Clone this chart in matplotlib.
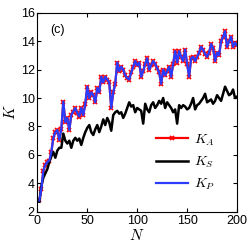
import numpy as np
import matplotlib
matplotlib.use('Agg')
import matplotlib.pyplot as plt

plt.rcParams['font.family'] = ['Liberation Sans', 'DejaVu Sans']
plt.rcParams['mathtext.fontset'] = 'cm'

N = np.arange(2, 201, 2)

K_A = [2.8, 3.6, 4.9, 5.3, 5.5, 5.6, 6.2, 7.2, 7.6, 7.75,
       7.05, 7.8, 9.75, 8.3, 8.6, 7.75, 8.8, 9.05, 9.3, 8.95,
       8.7, 9.3, 8.8, 9.6, 10.8, 10.0, 10.4, 10.2, 9.7, 10.7,
       10.4, 11.5, 11.1, 11.5, 11.3, 11.1, 9.3, 10.4, 11.0, 12.5,
       11.9, 12.2, 12.0, 11.6, 11.4, 11.3, 11.8, 12.2, 12.6, 12.3,
       12.5, 11.5, 11.9, 12.4, 12.8, 12.0, 12.3, 12.6, 12.4, 12.1,
       11.8, 11.0, 12.0, 11.6, 11.9, 12.2, 11.5, 12.4, 13.3, 12.5,
       13.3, 12.9, 12.6, 13.4, 12.4, 11.5, 12.8, 12.9, 12.6, 12.9,
       13.2, 13.6, 13.4, 13.1, 12.9, 13.2, 13.8, 13.5, 12.6, 13.2,
       13.0, 14.0, 14.3, 14.7, 13.6, 14.0, 14.3, 13.6, 13.9, 13.7]

K_S = [2.7, 3.8, 4.4, 4.7, 5.0, 5.5, 5.9, 6.2, 5.8, 6.3,
       6.5, 6.5, 7.5, 7.0, 6.8, 7.0, 6.5, 7.0, 7.2, 7.0,
       7.15, 6.7, 7.2, 7.6, 7.9, 8.1, 7.6, 7.4, 7.8, 8.1,
       7.6, 8.0, 8.5, 8.1, 8.6, 8.3, 7.7, 8.8, 9.0, 9.1,
       8.9, 9.0, 8.6, 8.9, 9.3, 9.7, 9.4, 9.5, 9.0, 9.3,
       9.2, 9.1, 8.2, 9.6, 9.2, 9.0, 9.5, 9.7, 9.3, 9.5,
       9.8, 9.6, 10.0, 9.3, 9.7, 9.5, 9.3, 9.0, 9.2, 8.2,
       9.5, 9.3, 9.5, 9.4, 9.2, 9.3, 9.6, 10.0, 9.2, 9.5,
       9.6, 9.8, 10.0, 10.3, 9.7, 9.8, 9.9, 9.6, 9.8, 10.2,
       10.0, 9.8, 10.3, 10.8, 10.5, 10.2, 10.3, 10.6, 10.0, 10.1]

K_P = list(K_A)

fig = plt.figure(figsize=(2.49, 2.50), dpi=100)
ax = fig.add_axes([0.15, 0.153, 0.802, 0.796])

ax.plot(N, K_A, color='red', lw=1.6, marker='x', ms=3.5, mew=1.3, label=r'$K_A$')
ax.plot(N, K_S, color='black', lw=1.8, label=r'$K_S$')
ax.plot(N, K_P, color='#2a3cff', lw=1.6, label=r'$K_P$')

ax.set_xlim(0, 200)
ax.set_ylim(2, 16)
ax.set_xticks([0, 50, 100, 150, 200])
ax.set_yticks(np.arange(2, 17, 2))
ax.tick_params(direction='in', top=True, right=True, labelsize=9, length=3, pad=2)
ax.set_xlabel(r'$N$', fontsize=11, labelpad=1)
ax.set_ylabel(r'$K$', fontsize=11, labelpad=2)
ax.text(13, 14.6, '(c)', fontsize=9)

leg = ax.legend(loc='lower right', frameon=False, fontsize=10, handlelength=2.3,
                handletextpad=0.5, numpoints=1, labelspacing=0.5,
                bbox_to_anchor=(0.92, 0.07), borderaxespad=0)

fig.savefig('out.png', dpi=100)
